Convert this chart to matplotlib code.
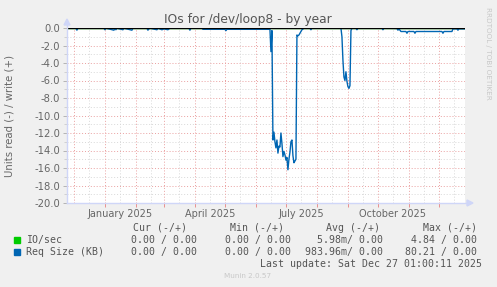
import numpy as np
import pandas as pd
import matplotlib
matplotlib.use("Agg")
import matplotlib.pyplot as plt
import matplotlib.dates as mdates

# Req Size (KB), read side (drawn negative)
req_dates = [
    "2024-11-24", "2024-12-03", "2024-12-04", "2024-12-05", "2024-12-31",
    "2025-01-01", "2025-01-02", "2025-01-10", "2025-01-11", "2025-01-12",
    "2025-01-13", "2025-01-19", "2025-01-20", "2025-01-28", "2025-01-29",
    "2025-02-12", "2025-02-13", "2025-02-14", "2025-02-15", "2025-02-22",
    "2025-02-23", "2025-02-27", "2025-03-01", "2025-03-05", "2025-03-07",
    "2025-03-26", "2025-03-27", "2025-03-28", "2025-04-08", "2025-04-09",
    "2025-05-01", "2025-05-02", "2025-05-03", "2025-06-14", "2025-06-15",
    "2025-06-16", "2025-06-17", "2025-06-18", "2025-06-19", "2025-06-20",
    "2025-06-21", "2025-06-22", "2025-06-23", "2025-06-24", "2025-06-25",
    "2025-06-26", "2025-06-27", "2025-06-28", "2025-06-29", "2025-06-30",
    "2025-07-01", "2025-07-02", "2025-07-03", "2025-07-04", "2025-07-05",
    "2025-07-06", "2025-07-07", "2025-07-08", "2025-07-09", "2025-07-10",
    "2025-07-11", "2025-07-12", "2025-07-13", "2025-07-14", "2025-07-15",
    "2025-07-16", "2025-07-17", "2025-07-19", "2025-07-25", "2025-07-26",
    "2025-07-27", "2025-08-25", "2025-08-26", "2025-08-27", "2025-08-28",
    "2025-08-29", "2025-08-30", "2025-08-31", "2025-09-01", "2025-09-02",
    "2025-09-03", "2025-09-04", "2025-09-05", "2025-09-09", "2025-09-10",
    "2025-09-11", "2025-10-05", "2025-10-06", "2025-10-07", "2025-10-20",
    "2025-10-21", "2025-10-22", "2025-10-24", "2025-10-29", "2025-10-30",
    "2025-10-31", "2025-11-06", "2025-11-07", "2025-11-08", "2025-12-04",
    "2025-12-05", "2025-12-06", "2025-12-14", "2025-12-15", "2025-12-19",
    "2025-12-20", "2025-12-21", "2025-12-27",
]
req_read = [
    0.02, 0.02, 0.25, 0.02, 0.02,
    0.2, 0.02, 0.25, 0.05, 0.2,
    0.02, 0.2, 0.02, 0.25, 0.02,
    0.02, 0.25, 0.1, 0.02, 0.2,
    0.02, 0.2, 0.1, 0.2, 0.02,
    0.02, 0.25, 0.02, 0.02, 0.15,
    0.15, 0.3, 0.15, 0.15, 0.1,
    2.7, 0.3, 12.8, 11.9, 13.0,
    13.7, 12.8, 14.3, 13.5, 13.6,
    12.0, 13.2, 14.7, 14.1, 14.5,
    15.1, 14.8, 16.2, 15.0, 14.2,
    13.0, 12.8, 14.6, 15.4, 15.2,
    15.0, 0.8, 0.9, 0.8, 0.6,
    0.4, 0.2, 0.02, 0.02, 0.2,
    0.02, 0.02, 1.0, 3.7, 5.6,
    6.0, 5.0, 6.1, 6.7, 6.9,
    6.6, 0.3, 0.02, 0.02, 0.2,
    0.02, 0.02, 0.2, 0.02, 0.05,
    0.25, 0.1, 0.4, 0.4, 0.6,
    0.4, 0.4, 0.6, 0.4, 0.4,
    0.6, 0.4, 0.4, 0.1, 0.1,
    0.25, 0.1, 0.1,
]
# IO/sec stays at ~0 for the whole year
io_dates = ["2024-11-24", "2025-12-27"]
io_read = [0.0, 0.0]

y_ticks = [0.0, -2.0, -4.0, -6.0, -8.0, -10.0, -12.0, -14.0, -16.0, -18.0, -20.0]
x_labels = ["January 2025", "April 2025", "July 2025", "October 2025"]
x_label_dates = ["2025-01-16", "2025-04-16", "2025-07-16", "2025-10-16"]

legend_header = ["Cur (-/+)", "Min (-/+)", "Avg (-/+)", "Max (-/+)"]
legend_rows = [
    ("IO/sec", "#00CC00", ["0.00 / 0.00", "0.00 / 0.00", "5.98m/ 0.00", "4.84 / 0.00"]),
    ("Req Size (KB)", "#0066B3", ["0.00 / 0.00", "0.00 / 0.00", "983.96m/ 0.00", "80.21 / 0.00"]),
]

W, H = 497, 287
fig = plt.figure(figsize=(W / 100, H / 100), dpi=100, facecolor="#F0F0F0")
L, R, T, B = 67, 465, 28, 203
ax = fig.add_axes([L / W, 1 - B / H, (R - L) / W, (B - T) / H])
ax.set_facecolor("white")

x0 = pd.Timestamp("2024-11-24 02:00")
x1 = pd.Timestamp("2025-12-27 01:00")
ax.set_xlim(x0, x1)
ax.set_ylim(-20, 0)

# grid
major_days = pd.date_range("2024-12-01", "2025-12-01", freq="MS")
minor_days = major_days + pd.Timedelta(days=15)
for d in minor_days:
    if x0 < d < x1:
        ax.axvline(d, color="#D8D8D8", lw=0.7, ls=(0, (1, 2)), zorder=1)
for d in major_days:
    ax.axvline(d, color="#EAA0A0", lw=0.7, ls=(0, (1, 2)), zorder=1.5)
for v in np.arange(-19, 0, 2):
    ax.axhline(v, color="#D8D8D8", lw=0.7, ls=(0, (1, 2)), zorder=1)
for v in y_ticks:
    ax.axhline(v, color="#EAA0A0", lw=0.7, ls=(0, (1, 2)), zorder=1.5)

ax.plot(pd.to_datetime(io_dates), -np.array(io_read), color="#00CC00", lw=1.0, zorder=3)
ax.plot(pd.to_datetime(req_dates), -np.array(req_read), color="#0066B3", lw=1.0, zorder=3)
ax.axhline(0, color="black", lw=1.0, zorder=4)

for s in ax.spines.values():
    s.set_visible(False)

ax.set_yticks(y_ticks)
ax.set_yticklabels(["%.1f" % v for v in y_ticks])
ax.set_yticks(np.arange(-19, 0, 2), minor=True)
ax.set_xticks(mdates.date2num(pd.to_datetime(x_label_dates)))
ax.set_xticklabels(x_labels)
ax.set_xticks(mdates.date2num(major_days[1:]), minor=True)
ax.tick_params(axis="y", which="major", length=3, width=0.6, color="#AAAAAA",
               labelsize=7.2, labelcolor="#666666", pad=2)
ax.tick_params(axis="y", which="minor", length=2, width=0.6, color="#CCCCCC")
ax.tick_params(axis="x", which="major", length=0, labelsize=7.0,
               labelcolor="#666666", pad=4)
ax.tick_params(axis="x", which="minor", length=3, width=0.6, color="#E88080")

# axes with arrows
axis_col = "#CFD6F8"
fig.add_artist(plt.Line2D([L / W, (R + 3) / W], [1 - B / H] * 2, color=axis_col, lw=1.0))
fig.add_artist(plt.Line2D([L / W] * 2, [1 - B / H, 1 - (T - 4) / H], color=axis_col, lw=1.0))
fig.add_artist(plt.Polygon([[(R + 2) / W, 1 - (B - 3) / H], [(R + 2) / W, 1 - (B + 3) / H],
                            [(R + 8) / W, 1 - B / H]], closed=True, color=axis_col))
fig.add_artist(plt.Polygon([[(L - 3) / W, 1 - (T - 3) / H], [(L + 3) / W, 1 - (T - 3) / H],
                            [L / W, 1 - (T - 9) / H]], closed=True, color=axis_col))

fig.text(248 / W, 1 - 19 / H, "IOs for /dev/loop8 - by year", ha="center", va="center",
         fontsize=8.8, color="#555555")
fig.text(10 / W, 1 - 116 / H, "Units read (-) / write (+)", rotation=90, ha="center",
         va="center", fontsize=7.3, color="#666666")
fig.text(488 / W, 1 - 53 / H, "RRDTOOL / TOBI OETIKER", rotation=270, ha="center",
         va="center", fontsize=5.2, color="#C8C8C8")

# legend
mono = "DejaVu Sans Mono"
fs = 7.1
lc = "#555555"
head_right = [187, 284, 380, 477]
val_right = [197, 291, 383, 477]
for txt, xr in zip(legend_header, head_right):
    fig.text(xr / W, 1 - 228 / H, txt, ha="right", va="center", family=mono, fontsize=fs, color=lc)
for (name, col, vals), yy in zip(legend_rows, [240, 252]):
    fig.add_artist(plt.Rectangle((14 / W, 1 - (yy + 3) / H), 6 / W, 6 / H, color=col))
    fig.text(26 / W, 1 - yy / H, name, ha="left", va="center", family=mono, fontsize=fs, color=lc)
    for txt, xr in zip(vals, val_right):
        fig.text(xr / W, 1 - yy / H, txt, ha="right", va="center", family=mono, fontsize=fs, color=lc)
fig.text(482 / W, 1 - 264 / H, "Last update: Sat Dec 27 01:00:11 2025", ha="right", va="center",
         family=mono, fontsize=fs, color=lc)
fig.text(248 / W, 1 - 276 / H, "Munin 2.0.57", ha="center", va="center",
         fontsize=5.2, color="#C8C8C8")

fig.savefig("out.png", dpi=100, facecolor=fig.get_facecolor())
